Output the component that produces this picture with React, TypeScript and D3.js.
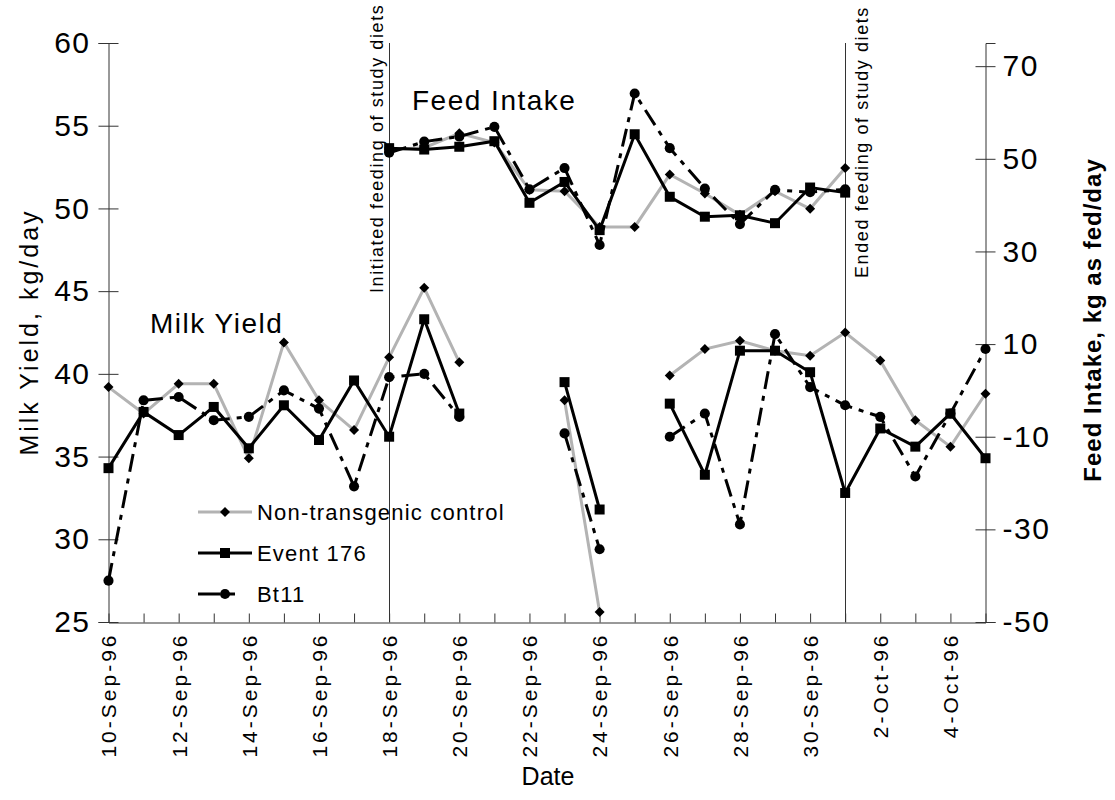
import { useEffect, useRef } from "react";
import * as d3 from "d3";

// one entry per day, 10-Sep-96 .. 5-Oct-96
const dayStrings = [
  "1996-09-10", "1996-09-11", "1996-09-12", "1996-09-13", "1996-09-14",
  "1996-09-15", "1996-09-16", "1996-09-17", "1996-09-18", "1996-09-19",
  "1996-09-20", "1996-09-21", "1996-09-22", "1996-09-23", "1996-09-24",
  "1996-09-25", "1996-09-26", "1996-09-27", "1996-09-28", "1996-09-29",
  "1996-09-30", "1996-10-01", "1996-10-02", "1996-10-03", "1996-10-04",
  "1996-10-05",
];

// milk yield, kg/day (left axis); null = no record
const nonTransMilk = [39.2, 37.6, 39.4, 39.4, 34.9, 41.9, 38.4, 36.6, 41.0, 45.2, 40.7, null, null, 38.4, 25.6, null, 39.9, 41.5, 42.0, 41.4, 41.1, 42.5, 40.8, 37.2, 35.6, 38.8];
const event176Milk = [34.3, 37.7, 36.3, 38.0, 35.5, 38.1, 36.0, 39.6, 36.2, 43.3, 37.6, null, null, 39.5, 31.8, null, 38.2, 33.9, 41.4, 41.4, 40.1, 32.8, 36.7, 35.6, 37.6, 34.9];
const bt11Milk = [27.5, 38.4, 38.6, 37.2, 37.4, 39.0, 37.9, 33.2, 39.8, 40.0, 37.4, null, null, 36.4, 29.4, null, 36.2, 37.6, 30.9, 42.4, 39.2, 38.1, 37.4, 33.8, 37.6, 41.5];

// feed intake, kg as fed/day (right axis), 18-Sep .. 1-Oct
const feedStart = 8;
const nonTransFeed = [52.0, 52.4, 55.5, 53.5, 43.3, 43.0, 35.3, 35.3, 46.6, 42.5, 37.9, 43.0, 39.2, 48.0];
const event176Feed = [52.3, 52.0, 52.6, 53.8, 40.5, 45.0, 34.6, 55.3, 41.8, 37.5, 37.8, 36.1, 43.8, 42.7];
const bt11Feed = [51.3, 53.7, 54.8, 56.9, 43.4, 48.0, 31.4, 64.1, 52.3, 43.6, 35.9, 43.3, 42.8, 43.4];

const milkTicks = [25, 30, 35, 40, 45, 50, 55, 60];
const feedTicks = [-50, -30, -10, 10, 30, 50, 70];

const initiatedDay = "1996-09-18";
const endedDay = "1996-10-01";

const seriesNames = ["Non-transgenic control", "Event 176", "Bt11"];

const FONT = "'Liberation Sans', Arial, sans-serif";

const App = () => {
  const svgRef = useRef<SVGSVGElement>(null);

  useEffect(() => {
    const svg = d3.select(svgRef.current);
    svg.selectAll("*").remove();

    const parse = d3.timeParse("%Y-%m-%d");
    const dates = dayStrings.map((s) => parse(s) as Date);

    // setup scales
    const x = d3.scaleTime().domain([dates[0], dates[dates.length - 1]]).range([108.5, 985.5]);
    const yMilk = d3.scaleLinear().domain([25, 60]).range([622, 43]);
    const yFeed = d3.scaleLinear().domain([-50, 75]).range([622, 43]);

    // axes
    const axisColor = "#333";
    const left = svg
      .append("g")
      .attr("transform", "translate(108.5,0)")
      .call(d3.axisLeft(yMilk).tickValues(milkTicks).tickSize(10).tickPadding(8).tickFormat(d3.format("d")));
    left.selectAll(".tick line").attr("x1", 10).attr("x2", -10);

    const right = svg
      .append("g")
      .attr("transform", "translate(985.5,0)")
      .call(d3.axisRight(yFeed).tickValues(feedTicks).tickSize(10).tickPadding(7).tickFormat((d) => String(d)));
    right.selectAll(".tick line").attr("x1", -10).attr("x2", 10);

    const bottom = svg
      .append("g")
      .attr("transform", "translate(0,622.5)")
      .call(
        d3
          .axisBottom(x)
          .tickValues(dates)
          .tickSize(0)
          .tickFormat((d, i) => (i % 2 === 0 ? d3.timeFormat("%-d-%b-%y")(d as Date) : ""))
      );
    bottom.selectAll(".tick line").attr("y1", -9).attr("y2", 0);
    bottom
      .selectAll(".tick text")
      .attr("transform", "rotate(-90)")
      .attr("text-anchor", "end")
      .attr("x", -10)
      .attr("y", 0)
      .attr("dy", "0.35em")
      .attr("font-size", 21)
      .attr("letter-spacing", 3);

    [left, right, bottom].forEach((g) => {
      g.select(".domain").attr("stroke", axisColor);
      g.selectAll(".tick line").attr("stroke", axisColor);
      g.selectAll("text").attr("font-family", FONT).attr("fill", "#000");
    });
    left.selectAll(".tick text").attr("font-size", 30).attr("letter-spacing", 1.5);
    right.selectAll(".tick text").attr("font-size", 30).attr("letter-spacing", 1.5);

    // event lines
    [initiatedDay, endedDay].forEach((s) => {
      const xv = Math.round(x(parse(s) as Date)) + 0.5;
      svg.append("line").attr("x1", xv).attr("x2", xv).attr("y1", 43).attr("y2", 622)
        .attr("stroke", axisColor).attr("stroke-width", 1);
    });

    const styles = [
      { stroke: "#b3b3b3", dash: null, marker: "diamond" },
      { stroke: "#000", dash: null, marker: "square" },
      { stroke: "#000", dash: "18,7,5,7", marker: "circle" },
    ];

    const markerPath = (kind: string) => {
      if (kind === "square") return d3.symbol(d3.symbolSquare, 100)();
      if (kind === "circle") return d3.symbol(d3.symbolCircle, 80)();
      return d3.symbol(d3.symbolSquare, 50)();
    };

    const drawSeries = (values: (number | null)[], offset: number, y: d3.ScaleLinear<number, number>, k: number) => {
      const st = styles[k];
      const pts = values.map((v, i) => ({ d: dates[i + offset], v }));
      const line = d3
        .line<{ d: Date; v: number | null }>()
        .defined((p) => p.v != null)
        .x((p) => x(p.d))
        .y((p) => y(p.v as number));
      svg.append("path").attr("d", line(pts)).attr("fill", "none")
        .attr("stroke", st.stroke).attr("stroke-width", 3)
        .attr("stroke-dasharray", st.dash);
      svg.append("g").selectAll("path").data(pts.filter((p) => p.v != null)).enter()
        .append("path")
        .attr("d", markerPath(st.marker))
        .attr("transform", (p) => `translate(${x(p.d)},${y(p.v as number)})` + (st.marker === "diamond" ? " rotate(45)" : ""))
        .attr("fill", "#000");
    };

    drawSeries(nonTransMilk, 0, yMilk, 0);
    drawSeries(event176Milk, 0, yMilk, 1);
    drawSeries(bt11Milk, 0, yMilk, 2);
    drawSeries(nonTransFeed, feedStart, yFeed, 0);
    drawSeries(event176Feed, feedStart, yFeed, 1);
    drawSeries(bt11Feed, feedStart, yFeed, 2);

    // legend
    const legend = svg.append("g");
    seriesNames.forEach((name, k) => {
      const st = styles[k];
      const ly = 512 + k * 41;
      legend.append("line").attr("x1", 198).attr("x2", 252).attr("y1", ly).attr("y2", ly)
        .attr("stroke", st.stroke).attr("stroke-width", 3).attr("stroke-dasharray", st.dash ? "22,7,8,100" : null);
      legend.append("path").attr("d", markerPath(st.marker))
        .attr("transform", `translate(225,${ly})` + (st.marker === "diamond" ? " rotate(45)" : ""))
        .attr("fill", "#000");
      legend.append("text").attr("x", 257).attr("y", ly).attr("dy", "0.36em")
        .attr("font-family", FONT).attr("font-size", 22).attr("letter-spacing", 1.2).text(name);
    });

    // annotations
    const txt = (t: string, xx: number, yy: number, size: number, extra: (s: any) => void = () => {}) => {
      const el = svg.append("text").attr("x", xx).attr("y", yy).attr("font-family", FONT)
        .attr("font-size", size).attr("fill", "#000").text(t);
      extra(el);
      return el;
    };
    txt("Milk Yield", 150, 333, 28, (s) => s.attr("letter-spacing", 1.5));
    txt("Feed Intake", 412, 110, 28, (s) => s.attr("letter-spacing", 1.5));
    txt("Initiated feeding of study diets", 0, 0, 18, (s) =>
      s.attr("transform", "translate(383,293) rotate(-90)").attr("letter-spacing", 1.6));
    txt("Ended feeding of study diets", 0, 0, 18, (s) =>
      s.attr("transform", "translate(868,278) rotate(-90)").attr("letter-spacing", 1.6));

    // axis titles
    txt("Milk Yield, kg/day", 0, 0, 25, (s) =>
      s.attr("transform", "translate(38,332) rotate(-90)").attr("text-anchor", "middle").attr("letter-spacing", 3));
    txt("Feed Intake, kg as fed/day", 0, 0, 24, (s) =>
      s.attr("transform", "translate(1101,320) rotate(-90)").attr("text-anchor", "middle")
        .attr("font-weight", "bold").attr("letter-spacing", 1));
    txt("Date", 548, 785, 25, (s) =>
      s.attr("text-anchor", "middle").attr("font-family", "'Liberation Sans Narrow', " + FONT));
  }, []);

  return (
    <svg
      ref={svgRef}
      width={1115}
      height={800}
      style={{ position: "absolute", left: 0, top: 0, background: "#fff" }}
    />
  );
};

export default App;
